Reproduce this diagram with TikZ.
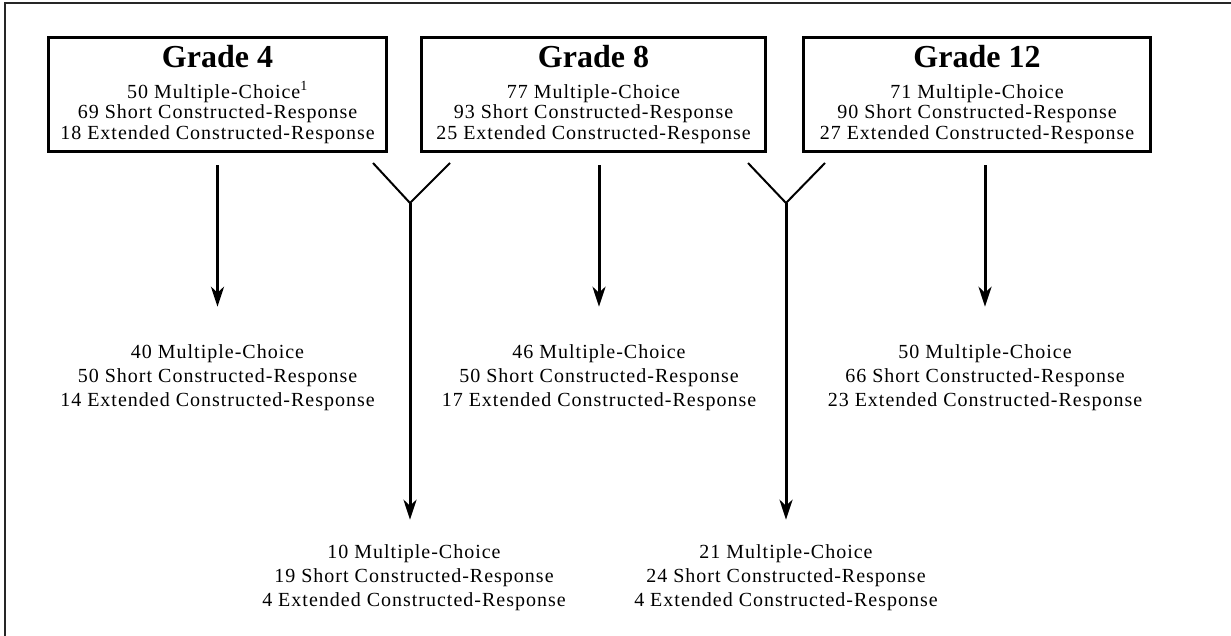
\documentclass[tikz,border=0pt]{standalone}
\usepackage{fontspec}
\setmainfont{Liberation Serif}
\newfontfamily\trackfont[LetterSpace=5]{Liberation Serif}
\usetikzlibrary{calc,arrows.meta}
\newcommand{\bodyfont}{\trackfont\fontsize{20}{20.5}\selectfont}
\newcommand{\lowfont}{\trackfont\fontsize{20}{24}\selectfont}
\newcommand{\gradetitle}[1]{{\rmfamily\bfseries\fontsize{32}{34}\selectfont #1}}
\tikzset{
    gradebox/.style={draw,line width=3pt,minimum width=#1,minimum height=114pt,
                     align=center,inner sep=0pt,font=\bodyfont},
    countlist/.style={align=center,inner sep=0pt,font=\lowfont},
    flow/.style={line width=3pt,-{Stealth[length=20pt,width=13pt,inset=6pt]}},
    arm/.style={line width=2pt}
}
\begin{document}
\begin{tikzpicture}[x=1pt,y=-1pt]
                    \useasboundingbox (0,0) rectangle (1231,635);
                    \draw[line width=2pt,black!85] (5,3) rectangle (1270,670);
                    % the three grades
                    \node[gradebox=338pt] (g4) at (217.5,94.5) {\gradetitle{Grade 4}\\[10pt]50 Multiple-Choice\textsuperscript{1}\\69 Short Constructed-Response\\18 Extended Constructed-Response};
                    \node[gradebox=344pt] (g8) at (593.5,94.5) {\gradetitle{Grade 8}\\[10pt]77 Multiple-Choice\\93 Short Constructed-Response\\25 Extended Constructed-Response};
                    \node[gradebox=347pt] (g12) at (977,94.5) {\gradetitle{Grade 12}\\[10pt]71 Multiple-Choice\\90 Short Constructed-Response\\27 Extended Constructed-Response};
                    % counts under each grade
                    \node[countlist] (g4low) at (217.5,378) {40 Multiple-Choice\\50 Short Constructed-Response\\14 Extended Constructed-Response};
                    \node[countlist] (g8low) at (599,378) {46 Multiple-Choice\\50 Short Constructed-Response\\17 Extended Constructed-Response};
                    \node[countlist] (g12low) at (985,378) {50 Multiple-Choice\\66 Short Constructed-Response\\23 Extended Constructed-Response};
                    % counts between two grades
                    \node[countlist] (split1) at (414,578) {10 Multiple-Choice\\19 Short Constructed-Response\\4 Extended Constructed-Response};
                    \node[countlist] (split2) at (786,578) {21 Multiple-Choice\\24 Short Constructed-Response\\4 Extended Constructed-Response};
                    \coordinate (fork1) at (410,203);
                    \coordinate (fork2) at (786,203);
                    \draw[flow,shorten <=12pt,shorten >=38pt] (g4.south) -- (g4low.north);
                    \draw[flow,shorten <=12pt,shorten >=38pt] (g8.south -| g8low) -- (g8low.north);
                    \draw[flow,shorten <=12pt,shorten >=38pt] (g12.south -| g12low) -- (g12low.north);
                    \draw[arm] ($(g4.south east)+(-15,10)$) -- (fork1) -- ($(g8.south west)+(30,10)$);
                    \draw[arm] ($(g8.south east)+(-19,10)$) -- (fork2) -- ($(g12.south west)+(23,10)$);
                    \draw[flow,shorten >=25pt] (fork1) -- (fork1 |- split1.north);
                    \draw[flow,shorten >=25pt] (fork2) -- (fork2 |- split2.north);
                \end{tikzpicture}
\end{document}
